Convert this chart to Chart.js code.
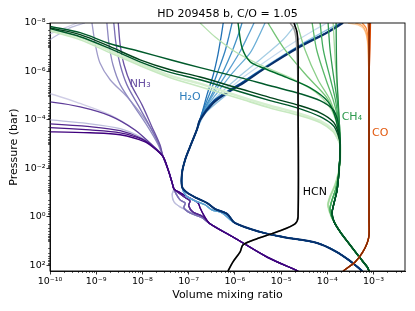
<!DOCTYPE html>
<html>
<head>
<meta charset="utf-8">
<script src="https://cdn.jsdelivr.net/npm/chart.js@4.4.1/dist/chart.umd.min.js"></script>
<style>
html,body{margin:0;padding:0;background:#fff;}
canvas{display:block;}
</style>
</head>
<body>
<canvas id="c" width="415" height="311"></canvas>
<script>
// ---------------- DATA (volume mixing ratio, pressure in bar) ----------------
const xTicks = [1e-10, 1e-9, 1e-8, 1e-7, 1e-6, 1e-5, 1e-4, 1e-3];
const xTickLabels = ['10⁻¹⁰','10⁻⁹','10⁻⁸','10⁻⁷','10⁻⁶','10⁻⁵','10⁻⁴','10⁻³'];
const yTicks = [1e-8, 1e-6, 1e-4, 1e-2, 1, 100];
const yTickLabels = ['10⁻⁸','10⁻⁶','10⁻⁴','10⁻²','10⁰','10²'];

// NH3: upper parts of each profile
const nh3Upper = [
  [[3.8e-10,1e-8],[2.1e-10,1.6e-8],[1.3e-10,2.3e-8],[4e-11,6e-8],[2e-11,5e-7],[2e-11,5e-6],[1e-10,8.3e-6],[4.5e-10,2.1e-5],[2.0e-9,6.2e-5],[6.9e-9,2.6e-4],[1.6e-8,1.07e-3]],
  [[5.7e-10,1e-8],[2.7e-10,1.6e-8],[1.5e-10,3.0e-8],[1e-10,4.9e-8],[4e-11,2e-7],[2e-11,3e-6],[2e-11,8e-5],[1e-10,1e-4],[7.3e-10,1.45e-4],[3.3e-9,2.3e-4],[8.9e-9,5.0e-4],[1.9e-8,1.4e-3]],
  [[8.1e-10,1e-8],[9.4e-10,6.5e-8],[1.2e-9,4.4e-7],[2.0e-9,2.2e-6],[4.6e-9,1.1e-5],[1.03e-8,7.4e-5],[2.1e-8,6.6e-4]],
  [[1.7e-9,1e-8],[1.9e-9,7.9e-8],[2.3e-9,5.3e-7],[3.3e-9,3.5e-6],[6.3e-9,2.4e-5],[1.3e-8,1.9e-4],[2.2e-8,1.07e-3]],
  [[2.4e-9,1e-8],[2.7e-9,7.9e-8],[3.3e-9,5.3e-7],[4.6e-9,3.5e-6],[8.0e-9,2.4e-5],[1.46e-8,1.9e-4],[2.3e-8,1.07e-3]],
  [[3.0e-9,1e-8],[3.3e-9,7.9e-8],[4.0e-9,5.3e-7],[5.7e-9,3.5e-6],[9.8e-9,2.4e-5],[1.6e-8,1.9e-4],[2.4e-8,1.07e-3]],
  [[2e-11,1.5e-5],[1e-10,1.8e-5],[4.5e-10,2.9e-5],[2.0e-9,6.8e-5],[6.9e-9,2.6e-4],[1.6e-8,1.07e-3]],
  [[2e-11,1.3e-4],[1e-10,1.45e-4],[7.3e-10,1.9e-4],[3.3e-9,2.8e-4],[9.8e-9,6.0e-4],[2.0e-8,1.6e-3]],
  [[2e-11,2e-4],[1e-10,2.1e-4],[7.3e-10,2.6e-4],[3.3e-9,3.4e-4],[1.03e-8,6.6e-4],[2.0e-8,1.7e-3]],
  [[2e-11,3e-4],[1e-10,3.1e-4],[7.3e-10,3.4e-4],[3.3e-9,4.1e-4],[1.14e-8,8.1e-4],[2.1e-8,1.9e-3]]
];
const nh3Mid = [[2.8e-8,3.3e-3],[3.6e-8,1.15e-2],[4.4e-8,4.0e-2],[4.8e-8,7.0e-2]];
const nh3Wiggles = [
  [[4.4e-8,0.12],[4.8e-8,0.24],[6.5e-8,0.39],[1.07e-7,0.63],[1.95e-7,1.1]],
  [[5.3e-8,0.11],[6.5e-8,0.20],[8.4e-8,0.27],[7.9e-8,0.43],[1.07e-7,0.69],[1.95e-7,1.1]],
  [[5.9e-8,0.10],[8.8e-8,0.17],[1.07e-7,0.22],[1.0e-7,0.35],[1.24e-7,0.63],[2.05e-7,1.0]],
  [[6.5e-8,0.10],[1.07e-7,0.17],[1.6e-7,0.27],[1.77e-7,0.43],[2.05e-7,0.76]]
];
const nh3Deep = [[2.9e-7,1.95],[9.1e-7,6.8],[5.0e-6,46],[2.33e-5,173]];

// H2O
const h2oUpper = [
  [[9.9e-5,1e-8],[5.4e-5,1.9e-8],[1.57e-5,7.9e-8],[4.5e-6,4.0e-7],[1.3e-6,2.2e-6],[4.8e-7,1.2e-5],[2.26e-7,5.6e-5]],
  [[2.2e-5,1e-8],[1.1e-5,4.9e-8],[3.9e-6,2.7e-7],[1.3e-6,1.5e-6],[4.3e-7,1.0e-5],[2.26e-7,4.6e-5]],
  [[1.9e-4,1e-8],[9.0e-5,2.1e-8],[2.6e-5,7.9e-8],[5.2e-6,5.3e-7],[1.43e-6,2.9e-6],[4.8e-7,1.5e-5],[2.05e-7,6.8e-5]],
  [[4.5e-6,1e-8],[3.2e-6,4.0e-8],[2.14e-6,1.7e-7],[9.1e-7,1.1e-6],[4.3e-7,6.9e-6],[2.26e-7,3.8e-5]],
  [[2.6e-6,1e-8],[1.93e-6,3.3e-8],[1.3e-6,1.5e-7],[7.1e-7,1.0e-6],[3.7e-7,6.9e-6],[2.15e-7,4.2e-5]],
  [[1.43e-6,1e-8],[1.17e-6,3.3e-8],[8.7e-7,1.5e-7],[5.6e-7,1.0e-6],[3.4e-7,6.9e-6],[2.05e-7,4.6e-5]],
  [[8.7e-7,1e-8],[7.5e-7,3.3e-8],[6.1e-7,1.5e-7],[4.3e-7,1.0e-6],[2.9e-7,7.6e-6],[1.95e-7,5.1e-5]],
  [[5.6e-7,1e-8],[5.0e-7,4.0e-8],[4.3e-7,2.0e-7],[3.4e-7,1.4e-6],[2.5e-7,9.1e-6],[1.95e-7,5.1e-5]],
  [[2.0e-4,1e-8],[1.0e-4,2.4e-8],[2.6e-5,8.6e-8],[5.0e-6,6.0e-7],[1.6e-6,2.5e-6],[6.6e-7,7.0e-6],[3.3e-7,1.8e-5],[1.75e-7,9.5e-5]],
  [[2.2e-4,1e-8],[9.9e-5,2.5e-8],[2.6e-5,9.5e-8],[5.0e-6,6.4e-7],[1.66e-6,2.7e-6],[6.8e-7,7.6e-6],[3.4e-7,2.0e-5],[1.77e-7,1e-4]]
];
const h2oMid = [[1.5e-7,2.6e-4],[1.07e-7,1.3e-3],[8.4e-8,4.4e-3],[7.2e-8,1.5e-2],[7.2e-8,5.8e-2]];
const h2oWiggles = [
  [[8.8e-8,0.135],[1.38e-7,0.22],[2.26e-7,0.32],[3.2e-7,0.52],[5.3e-7,0.69]],
  [[9.2e-8,0.10],[1.5e-7,0.17],[2.5e-7,0.27],[3.7e-7,0.47],[6.8e-7,0.76]]
];
const h2oDeep = [[1.0e-6,1.8],[3.5e-6,4.2],[1.1e-5,6.8],[6.0e-5,12],[1.48e-4,26],[3.1e-4,66],[5.7e-4,173]];

// CH4
const ch4Upper = [
  [[1e-10,1.9e-8],[4.5e-10,4.0e-8],[2.0e-9,1.4e-7],[8.9e-9,4.8e-7],[4.0e-8,1.5e-6],[1.77e-7,3.2e-6],[1.3e-6,1.1e-5],[5.8e-6,2.6e-5],[2.6e-5,5.6e-5],[7.0e-5,1.1e-4],[1.34e-4,2.6e-4],[1.7e-4,6.0e-4]],
  [[1e-10,2.1e-8],[4.5e-10,4.9e-8],[2.0e-9,1.7e-7],[8.9e-9,5.8e-7],[4.0e-8,1.8e-6],[1.77e-7,4.3e-6],[1.3e-6,1.35e-5],[5.8e-6,3.2e-5],[2.6e-5,6.8e-5],[7.0e-5,1.3e-4],[1.34e-4,3.1e-4],[1.7e-4,6.6e-4]],
  [[1.77e-7,1e-8],[3.7e-7,3.7e-8],[1.0e-6,1.5e-7],[3.5e-6,5.3e-7],[1.57e-5,1.8e-6],[5.4e-5,6.9e-6],[1.15e-4,3.2e-5],[1.63e-4,1.6e-4]],
  [[1.34e-4,1e-8],[1.48e-4,3.3e-7],[1.7e-4,1.5e-5]],
  [[2.2e-5,1e-8],[3.3e-5,1.3e-7],[6.3e-5,2.2e-6],[1.15e-4,1.5e-5],[1.55e-4,8.1e-5]],
  [[5.2e-6,1e-8],[1.22e-5,1.3e-7],[3.8e-5,1.7e-6],[9.4e-5,1.1e-5],[1.48e-4,6.2e-5],[1.8e-4,2.6e-4]],
  [[4.7e-5,1e-8],[5.9e-5,1.3e-7],[9.4e-5,2.2e-6],[1.34e-4,1.5e-5],[1.7e-4,1e-4]],
  [[7.0e-5,1e-8],[8.2e-5,1.3e-7],[1.18e-4,2.2e-6],[1.5e-4,1.5e-5],[1.72e-4,1e-4]],
  [[1.04e-4,1e-8],[1.15e-4,1.3e-7],[1.4e-4,2.2e-6],[1.63e-4,1.5e-5],[1.8e-4,1e-4]],
  [[1.55e-4,1e-8],[1.6e-4,1e-6],[1.75e-4,3e-5]],
  [[1.17e-6,1e-8],[1.43e-6,1.05e-7],[2.14e-6,4.0e-7],[3.5e-6,6.4e-7],[1.35e-5,1.8e-6],[4.2e-5,4.7e-6],[1.04e-4,1.8e-5],[1.55e-4,1e-4]],
  [[1e-10,1.7e-8],[4.5e-10,3.7e-8],[2.0e-9,1.15e-7],[8.9e-9,4.0e-7],[4.0e-8,1.1e-6],[1.77e-7,2.2e-6],[1.3e-6,6.9e-6],[5.8e-6,1.6e-5],[2.6e-5,3.5e-5],[7.0e-5,7.4e-5],[1.34e-4,1.7e-4],[1.7e-4,4.1e-4]],
  [[1e-10,1.6e-8],[4.5e-10,3.0e-8],[2.0e-9,9.5e-8],[8.9e-9,3.3e-7],[4.0e-8,8.5e-7],[1.77e-7,1.7e-6],[1.3e-6,5.2e-6],[5.8e-6,1.2e-5],[2.6e-5,2.6e-5],[7.0e-5,5.1e-5],[1.34e-4,1.2e-4],[1.7e-4,3.1e-4]],
  [[1e-10,1.4e-8],[4.5e-10,2.5e-8],[2.0e-9,7.2e-8],[8.9e-9,1.5e-7],[4.0e-8,3.3e-7],[1.77e-7,7.0e-7],[1.3e-6,1.8e-6],[5.8e-6,3.9e-6],[2.6e-5,8.3e-6],[7.0e-5,1.6e-5],[1.34e-4,3.8e-5],[1.7e-4,1.2e-4]]
];
const ch4Mid = [[1.9e-4,1.07e-3],[1.8e-4,1.15e-2]];
const ch4Wiggles = [
  [[1.48e-4,4.8e-2],[1.15e-4,0.15],[1.04e-4,0.32],[1.15e-4,0.69],[1.34e-4,1.35]],
  [[1.55e-4,6.4e-2],[1.27e-4,0.20],[1.15e-4,0.43],[1.2e-4,0.83],[1.4e-4,1.6]],
  [[1.63e-4,7.8e-2],[1.4e-4,0.27],[1.27e-4,0.69],[1.4e-4,1.6]]
];
const ch4Deep = [[1.9e-4,4.2],[3.1e-4,14.5],[5.1e-4,50],[7.3e-4,118],[8.0e-4,173]];

// CO
const coUpper = [
  [[2.8e-4,1e-8],[4.6e-4,1.2e-8],[6.3e-4,1.9e-8],[7.3e-4,4.9e-8],[7.6e-4,2.0e-7]],
  [[4.0e-4,1e-8],[5.7e-4,1.3e-8],[6.9e-4,2.5e-8],[7.6e-4,7.9e-8],[8.0e-4,5.3e-7]],
  [[5.7e-4,1e-8],[6.9e-4,1.6e-8],[7.6e-4,4.0e-8],[8.0e-4,2.0e-7]],
  [[7.6e-4,1e-8],[8.0e-4,4.9e-8]],
  [[8.6e-4,1e-8],[8.4e-4,1e-7]],
  [[8.2e-4,1e-8]],
  [[8.0e-4,1e-8]]
];
const coDeep = [[8.0e-4,2.2e-6],[8.0e-4,1.7e-3],[8.0e-4,1.35],[8.0e-4,5.6],[7.3e-4,12],[5.7e-4,31],[4.0e-4,73],[2.2e-4,173]];

// HCN
const hcnUpper = [
  [[1.57e-5,1e-8],[1.9e-5,1.7e-8],[2.1e-5,4.0e-8],[2.25e-5,3.3e-7]],
  [[1.9e-5,1e-8],[2.2e-5,2.3e-8],[2.33e-5,7.9e-8]]
];
const hcnDeep = [[2.33e-5,1.5e-5],[2.33e-5,1.0],[2.0e-5,1.95],[9.5e-6,3.8],[3.0e-6,8.1],[1.5e-6,14.5],[1.3e-6,28],[9.1e-7,73],[7.1e-7,173]];

const speciesNames = ['NH₃','H₂O','CH₄','CO','HCN'];

// ---------------- STYLE ----------------
const nh3Colors = ['#d0cee6','#bcbddc','#a09cca','#8e89c0','#7b6fb4','#6a51a3','#5e3c99','#54278f','#4a1486','#3f007d'];
const nh3WigIdx = [0,0,1,1,1,2,2,2,3,3];
const h2oColors = ['#c6dbef','#a6cee4','#8dc0e0','#6aaed6','#5a9fd0','#4292c6','#3383be','#2171b5','#08519c','#08306b'];
const h2oWidths = [1.3,1.3,1.3,1.3,1.3,1.3,1.3,1.3,1.5,2.0];
const h2oWigIdx = [0,0,0,0,0,1,1,1,1,1];
const ch4Colors = ['#d5efcf','#c7e9c0','#b5e1ae','#a1d99b','#8ace88','#74c476','#5bb86a','#41ab5d','#329b51','#238b45','#006d2c','#00592a','#00441b','#005a2b'];
const ch4Widths = [2.4,1.6,1.3,1.3,1.3,1.3,1.3,1.3,1.3,1.3,1.4,1.4,1.4,1.4];
const ch4WigIdx = [0,0,0,0,1,1,1,1,2,2,2,2,2,2];
const coColors = ['#fdd0a2','#fdae6b','#fd8d3c','#f16913','#d94801','#a63603','#7f2704'];
const hcnColors = ['#9a9a9a','#000000'];
const labelStyle = [
  {x:8.9e-9, y:3.5e-6, color:'#6a51a3'},
  {x:1.07e-7, y:1.1e-5, color:'#2f7ebc'},
  {x:3.4e-4, y:7.4e-5, color:'#2e9a4f'},
  {x:1.39e-3, y:3.4e-4, color:'#e2590f'},
  {x:5.4e-5, y:0.10, color:'#000000'}
];

// ---------------- BUILD ----------------
const datasets = [];
function addLine(points, color, width){
  datasets.push({
    data: points.map(p => ({x:p[0], y:p[1]})),
    borderColor: color, backgroundColor: color,
    borderWidth: width, showLine: true, pointRadius: 0, pointHoverRadius: 0,
    tension: 0.3, fill: false
  });
}
nh3Upper.forEach((u,i) => addLine(u.concat(nh3Mid, nh3Wiggles[nh3WigIdx[i]], nh3Deep), nh3Colors[i], 1.3));
h2oUpper.forEach((u,i) => addLine(u.concat(h2oMid, h2oWiggles[h2oWigIdx[i]], h2oDeep), h2oColors[i], h2oWidths[i]));
ch4Upper.forEach((u,i) => addLine(u.concat(ch4Mid, ch4Wiggles[ch4WigIdx[i]], ch4Deep), ch4Colors[i], ch4Widths[i]));
hcnUpper.forEach((u,i) => addLine(u.concat(hcnDeep), hcnColors[i], 1.6));
coUpper.forEach((u,i) => addLine(u.concat(coDeep), coColors[i], 1.3));
const N = datasets.length;
datasets.forEach((d,i) => { d.order = N - i; });

const extras = {
  id: 'extras',
  afterDatasetsDraw(chart){
    const ctx = chart.ctx, xs = chart.scales.x, ys = chart.scales.y, a = chart.chartArea;
    ctx.save();
    // species labels
    ctx.font = '11px "DejaVu Sans"';
    ctx.textAlign = 'center'; ctx.textBaseline = 'middle';
    speciesNames.forEach((t,i) => {
      const s = labelStyle[i];
      ctx.fillStyle = s.color;
      ctx.fillText(t, xs.getPixelForValue(s.x), ys.getPixelForValue(s.y));
    });
    // minor ticks
    ctx.strokeStyle = '#000'; ctx.lineWidth = 0.6;
    ctx.beginPath();
    for (let e = -10; e <= -3; e++) {
      for (let m = 2; m <= 9; m++) {
        const v = m * Math.pow(10, e);
        if (v > xs.max) continue;
        const px = Math.round(xs.getPixelForValue(v)) + 0.5;
        ctx.moveTo(px, a.bottom); ctx.lineTo(px, a.bottom + 2);
      }
    }
    for (let e = -8; e <= 2; e++) {
      for (let m = 1; m <= 9; m++) {
        if (m === 1 && e % 2 === 0) continue;
        const v = m * Math.pow(10, e);
        if (v > ys.max) continue;
        const py = Math.round(ys.getPixelForValue(v)) + 0.5;
        ctx.moveTo(a.left - 2, py); ctx.lineTo(a.left, py);
      }
    }
    ctx.stroke();
    // frame
    ctx.lineWidth = 0.9; ctx.strokeStyle = '#000';
    ctx.strokeRect(a.left, a.top, a.right - a.left, a.bottom - a.top);
    ctx.restore();
  }
};

Chart.defaults.font.family = '"DejaVu Sans", sans-serif';
Chart.defaults.color = '#000';

new Chart(document.getElementById('c'), {
  type: 'scatter',
  data: { datasets },
  plugins: [extras],
  options: {
    responsive: false, animation: false, devicePixelRatio: 1,
    events: [],
    layout: { padding: { left: 0, right: 10, top: 0, bottom: 0 } },
    plugins: {
      legend: { display: false },
      tooltip: { enabled: false },
      title: {
        display: true, text: 'HD 209458 b, C/O = 1.05', fullSize: false,
        color: '#000', font: { size: 11, weight: 'normal' },
        padding: { top: 8, bottom: 1.8 }
      }
    },
    scales: {
      x: {
        type: 'logarithmic', position: 'bottom', min: 1e-10, max: 4.8e-3, bounds: 'data',
        afterBuildTicks: s => { s.ticks = xTicks.map(v => ({ value: v })); },
        afterFit: s => { s.height = 40; },
        ticks: {
          autoSkip: false, maxRotation: 0, minRotation: 0, padding: 1.5, color: '#000',
          font: { size: 9.5 },
          callback: (v, i) => xTickLabels[i]
        },
        grid: { drawOnChartArea: false, drawTicks: true, tickLength: 3.5, tickColor: '#000', tickWidth: 0.8 },
        border: { display: true, color: '#000', width: 0.9 },
        title: { display: true, text: 'Volume mixing ratio', color: '#000', font: { size: 11 }, padding: { top: 0, bottom: 9.4 } }
      },
      y: {
        type: 'logarithmic', position: 'left', reverse: true, min: 1e-8, max: 173, bounds: 'data',
        afterBuildTicks: s => { s.ticks = yTicks.map(v => ({ value: v })); },
        afterFit: s => { s.width = 50; },
        ticks: {
          autoSkip: false, padding: 1, color: '#000', font: { size: 9.5 },
          callback: (v, i) => yTickLabels[i]
        },
        grid: { drawOnChartArea: false, drawTicks: true, tickLength: 3.5, tickColor: '#000', tickWidth: 0.8 },
        border: { display: true, color: '#000', width: 0.9 },
        title: { display: true, text: 'Pressure (bar)', color: '#000', font: { size: 11 }, padding: { top: 7.4, bottom: 0 } }
      }
    }
  }
});
</script>
</body>
</html>
